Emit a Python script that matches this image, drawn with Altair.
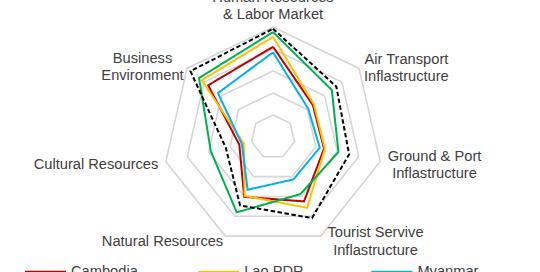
import altair as alt
import pandas as pd

# ---------------- data ----------------
AXES = [
    "Human Resources & Labor Market",
    "Air Transport Inflastructure",
    "Ground & Port Inflastructure",
    "Tourist Servive Inflastructure",
    "Natural Resources",
    "Cultural Resources",
    "Business Environment",
]
AXIS_LABEL_LINES = [
    "Human Resources\n& Labor Market",
    "Air Transport\nInflastructure",
    "Ground & Port\nInflastructure",
    "Tourist Servive\nInflastructure",
    "Natural Resources",
    "Cultural Resources",
    "Business\nEnvironment",
]
COUNTRIES = ["Cambodia", "Lao PDR", "Myanmar", "Viet Nam", "Thailand"]
CAMBODIA = [4.10, 2.32, 2.38, 3.25, 3.02, 1.57, 3.77]
LAO_PDR = [4.55, 2.38, 2.42, 3.57, 2.97, 1.36, 4.14]
MYANMAR = [3.85, 2.05, 2.18, 2.14, 2.66, 1.45, 3.20]
VIET_NAM = [4.77, 3.42, 3.05, 2.88, 3.80, 2.90, 4.30]
THAILAND = [4.92, 3.68, 3.55, 4.09, 3.45, 2.20, 4.80]
SERIES = [CAMBODIA, LAO_PDR, MYANMAR, VIET_NAM, THAILAND]
GRID_LEVELS = [1, 2, 3, 4, 5]

# ---------------- styles / layout ----------------
COLORS = ["#C00000", "#FFC000", "#00B0F0", "#00B050", "#000000"]
DASHES = [[1, 0], [1, 0], [1, 0], [1, 0], [4.5, 2.5]]
W, H = 540, 272
CX, CY = 273, 137          # centre of the radar in pixels
UNIT = 22                  # pixels per value unit
FONT = "Liberation Sans"
FS = 14.67
LH = 17.7
TEXT_COLOR = "#404040"

# label anchors (centre x, first-line y) in pixels
LABEL_PX = [(273, -2.2), (406.4, 59.8), (434.5, 156.5), (375.5, 233.2),
            (162.5, 242.2), (96.0, 164.8), (142.5, 58.8)]
LEG_X0, LEG_Y0, LEG_DX, LEG_DY, LEG_LEN, LEG_GAP = 25, 271.7, 173.2, 20, 41, 5

def ux(px):
    return (px - CX) / UNIT

def uy(py):
    return (CY - py) / UNIT

XD = [ux(0), ux(W)]
YD = [uy(H), uy(0)]
N = len(AXES)

def X(field, **kw):
    return alt.X(field, type="quantitative", axis=None,
                 scale=alt.Scale(domain=XD, nice=False, zero=False), **kw)

def Y(field, **kw):
    return alt.Y(field, type="quantitative", axis=None,
                 scale=alt.Scale(domain=YD, nice=False, zero=False), **kw)

calc = dict(
    x=f"datum.v * sin(2 * PI * datum.k / {N})",
    y=f"datum.v * cos(2 * PI * datum.k / {N})",
)

# grid rings
grid_rows = []
for lvl in GRID_LEVELS:
    for k in range(N + 1):
        grid_rows.append({"level": lvl, "k": k, "v": lvl})
grid = (
    alt.Chart(pd.DataFrame(grid_rows))
    .transform_calculate(**calc)
    .mark_line(color="#D6D6D6", strokeWidth=1.6)
    .encode(x=X("x"), y=Y("y"), detail="level:N", order="k:Q")
)

# series polygons
layers = [grid]
for name, vals, col, dash in zip(COUNTRIES, SERIES, COLORS, DASHES):
    rows = [{"country": name, "k": k, "v": vals[k % N]} for k in range(N + 1)]
    layers.append(
        alt.Chart(pd.DataFrame(rows))
        .transform_calculate(**calc)
        .mark_line(color=col, strokeWidth=2, strokeDash=dash, strokeJoin="miter")
        .encode(x=X("x"), y=Y("y"), order="k:Q")
    )

# axis labels
lab_df = pd.DataFrame({
    "label": AXIS_LABEL_LINES,
    "lx": [ux(p[0]) for p in LABEL_PX],
    "ly": [uy(p[1]) for p in LABEL_PX],
})
labels = alt.Chart(lab_df).mark_text(
    font=FONT, fontSize=FS, color=TEXT_COLOR, align="center", baseline="middle",
    lineBreak="\n", lineHeight=LH,
).encode(x=X("lx"), y=Y("ly"), text="label:N")
layers.append(labels)

# legend (rows of three, clipped by the canvas)
leg_rows = []
for i, (name, col) in enumerate(zip(COUNTRIES, COLORS)):
    c, r = i % 3, i // 3
    x0 = LEG_X0 + c * LEG_DX
    yy = LEG_Y0 + r * LEG_DY
    leg_rows.append({"country": name, "x0": ux(x0), "x1": ux(x0 + LEG_LEN),
                     "xt": ux(x0 + LEG_LEN + LEG_GAP), "yy": uy(yy)})
leg_df = pd.DataFrame(leg_rows)
leg_lines = alt.Chart(leg_df).mark_rule(strokeWidth=2).encode(
    x=X("x0"), x2="x1", y=Y("yy"),
    color=alt.Color("country:N", scale=alt.Scale(domain=COUNTRIES, range=COLORS), legend=None),
    strokeDash=alt.StrokeDash("country:N", scale=alt.Scale(domain=COUNTRIES, range=DASHES), legend=None),
)
leg_text = alt.Chart(leg_df).mark_text(
    font=FONT, fontSize=FS, color=TEXT_COLOR, align="left", baseline="middle",
).encode(x=X("xt"), y=Y("yy"), text="country:N")
layers += [leg_lines, leg_text]

chart = (
    alt.layer(*layers)
    .properties(width=W, height=H, autosize=alt.AutoSizeParams(type="none"),
                padding=0, background="white")
    .configure_view(strokeWidth=0)
)
chart.save("out.html", embed_options={"renderer": "svg", "actions": False})
